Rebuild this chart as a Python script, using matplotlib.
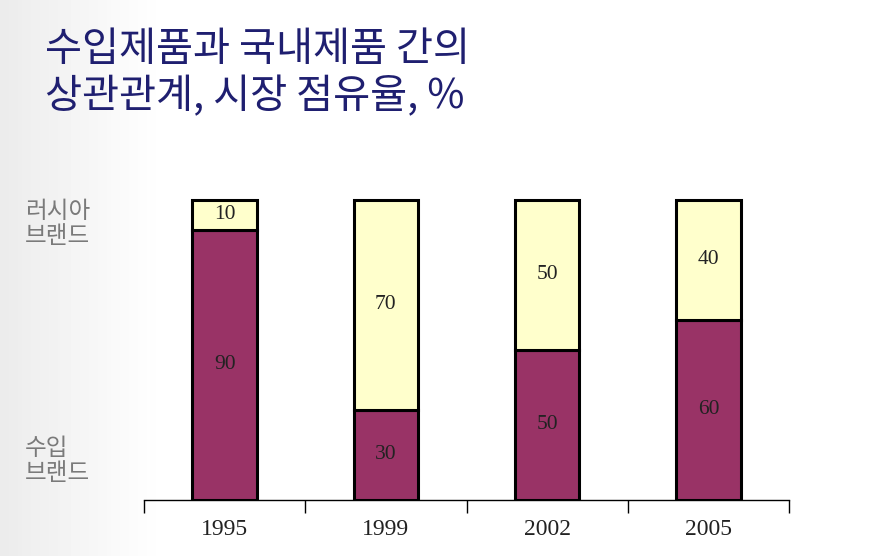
# market share chart, imported vs russian brands

import numpy as np
from matplotlib import pyplot as plt

years = ['1995', '1999', '2002', '2005']
imported = [90, 30, 50, 60]
russian = [10, 70, 50, 40]

plt.rcParams['font.family'] = ['Noto Sans CJK KR', 'DejaVu Sans']

fig = plt.figure(figsize=(8.91, 5.56), dpi=100)
fig.patch.set_facecolor('white')

# light grey fade on the left edge
bg = fig.add_axes([0, 0, 1, 1], zorder=-10)
grad = np.linspace(0, 1, 200)
grad = np.clip(grad / 0.18, 0, 1)
bg.imshow(np.tile(grad, (2, 1)), cmap='gray', vmin=-12, vmax=1,
          aspect='auto', extent=[0, 1, 0, 1])
bg.axis('off')

W, H = 891, 556
ax = fig.add_axes([144 / W, (H - 500) / H, (789 - 144) / W, (500 - 198) / H])
ax.set_facecolor('none')

x = np.arange(len(years))
bw = 0.4
ax.bar(x, imported, bw, color='#993366', edgecolor='black', linewidth=2.2)
ax.bar(x, russian, bw, bottom=imported, color='#ffffcc', edgecolor='black', linewidth=2.2)

for i in range(len(years)):
    ax.text(x[i], imported[i] / 2, str(imported[i]), ha='center', va='center',
            fontsize=15.5, family='Liberation Serif', color='#222222')
    ax.text(x[i], imported[i] + russian[i] / 2, str(russian[i]), ha='center', va='center',
            fontsize=15.5, family='Liberation Serif', color='#222222')

ax.set_xlim(-0.5, len(years) - 0.5)
ax.set_ylim(0, 100.5)
for s in ['top', 'right', 'left']:
    ax.spines[s].set_visible(False)
ax.spines['bottom'].set_linewidth(1)
ax.set_yticks([])
ax.set_xticks(np.arange(len(years) + 1) - 0.5)
ax.set_xticklabels([])
ax.set_xticks(x, minor=True)
ax.set_xticklabels(years, minor=True, family='Liberation Serif', fontsize=17, color='#222222')
ax.tick_params(axis='x', which='major', direction='out', length=9, width=1)
ax.tick_params(axis='x', which='minor', length=0, pad=14)

fig.text(45 / W, 1 - 50 / H, '수입제품과 국내제품 간의',
         fontsize=29, color='#1f1f70', va='center', ha='left')
fig.text(45 / W, 1 - 97 / H, '상관관계, 시장 점유율, %',
         fontsize=29, color='#1f1f70', va='center', ha='left')

fig.text(25 / W, 1 - 224 / H, '러시아\n브랜드', fontsize=17, color='#7a7a7a',
         va='center', ha='left', linespacing=1.1, fontweight='light')
fig.text(25 / W, 1 - 461 / H, '수입\n브랜드', fontsize=17, color='#7a7a7a',
         va='center', ha='left', linespacing=1.1, fontweight='light')

plt.savefig('out.png', dpi=100)
